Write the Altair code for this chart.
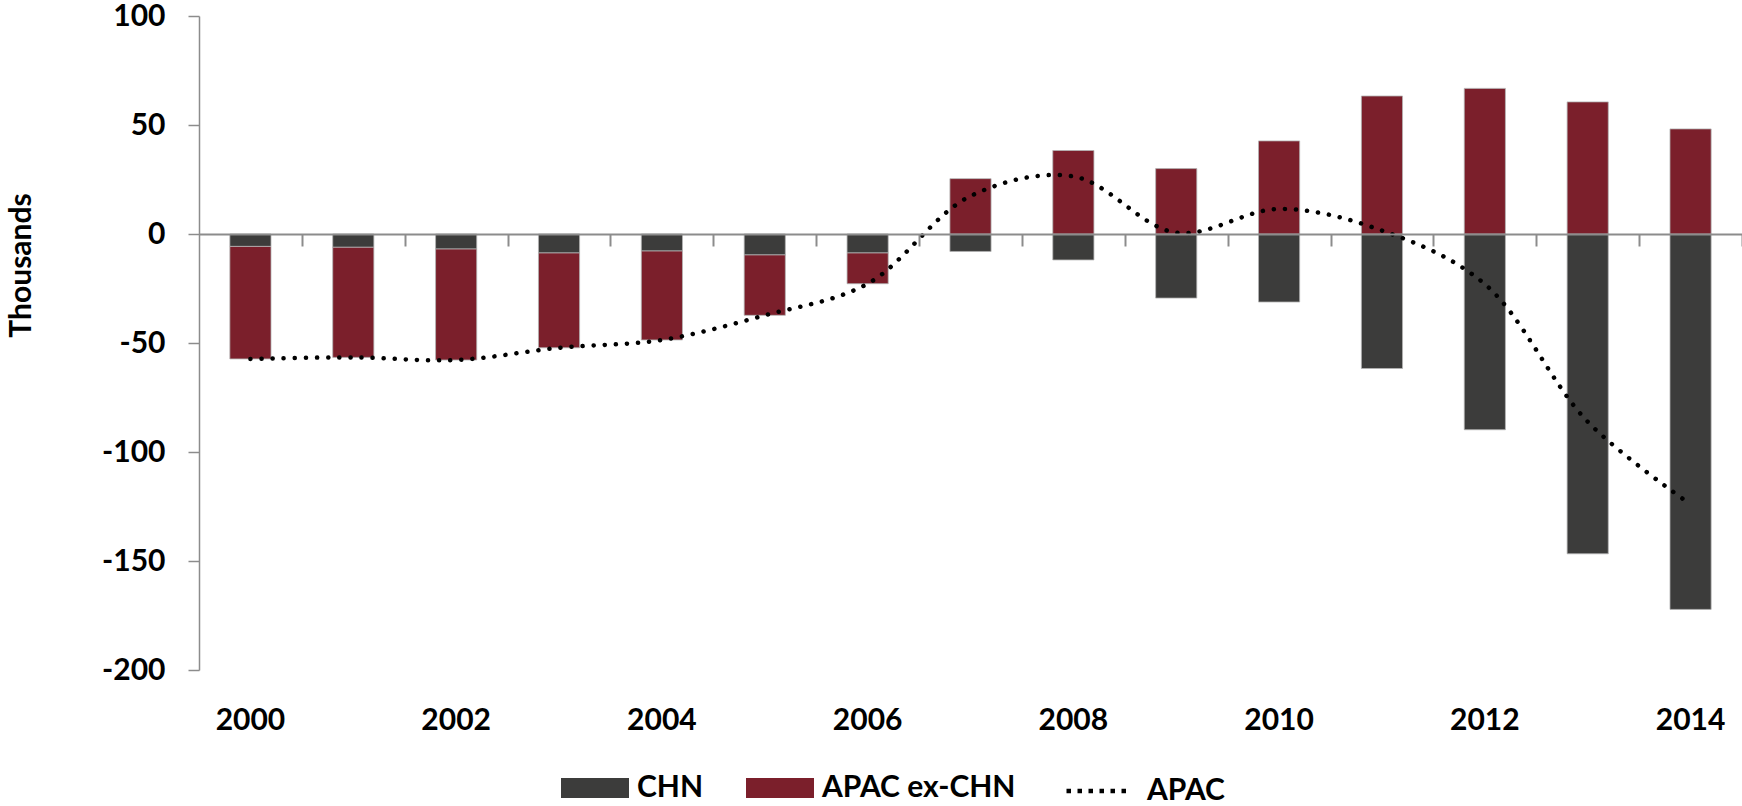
import altair as alt
import pandas as pd

# Net flows by year, thousands
years = list(range(2000, 2015))
chn = [-5.7, -6.1, -6.9, -8.7, -7.8, -9.6, -8.7, -8.0, -11.9, -29.4, -31.2, -61.7, -89.8, -146.7, -172.2]
apac_ex_chn = [-51.6, -50.5, -50.9, -43.5, -40.8, -27.7, -14.1, 25.4, 38.3, 30.0, 42.7, 63.3, 66.8, 60.6, 48.2]
apac = [-57.3, -56.6, -57.8, -52.2, -48.6, -37.3, -22.8, 17.4, 26.4, 0.6, 11.5, 1.6, -23.0, -86.1, -124.0]

series_names = ["CHN", "APAC ex-CHN"]
series_colors = ["#3C3C3B", "#7B1F2B"]
year_labels = [2000, 2002, 2004, 2006, 2008, 2010, 2012, 2014]
y_ticks = [-200, -150, -100, -50, 0, 50, 100]

rows = []
for i, y in enumerate(years):
    rows.append({"year": y, "series": "CHN", "value": chn[i], "ord": 0})
    rows.append({"year": y, "series": "APAC ex-CHN", "value": apac_ex_chn[i], "ord": 1})
bars_df = pd.DataFrame(rows)
line_df = pd.DataFrame({"year": years, "series": ["APAC"] * len(years), "value": apac})

FONT = "Lato"
GREY = "#8C8C8C"
FS = 30
PLOT_W = 1543
PLOT_H = 654
# category ticks sit halfway between neighbouring years
half_step = PLOT_W / len(years) / 2

x_scale = alt.Scale(paddingInner=0.6, paddingOuter=0.3)

bars = alt.Chart(bars_df).mark_bar(stroke="#B4B4B4", strokeWidth=0.8).encode(
    x=alt.X(
        "year:O",
        scale=x_scale,
        axis=alt.Axis(
            title=None, values=year_labels, domain=False, ticks=False, tickSize=0,
            labelAngle=0, labelPadding=35, labelFont=FONT, labelFontSize=FS,
            labelFontWeight="bold", labelColor="black",
        ),
    ),
    y=alt.Y(
        "value:Q",
        stack="zero",
        scale=alt.Scale(domain=[-200, 100], nice=False, zero=False),
        axis=alt.Axis(
            values=y_ticks, grid=False, domainColor=GREY, domainWidth=1.5,
            tickColor=GREY, tickWidth=1.5, tickSize=11, labelPadding=23,
            labelExpr="datum.value + ''",
            labelFont=FONT, labelFontSize=FS, labelFontWeight="bold", labelColor="black",
            title="Thousands", titleFont=FONT, titleFontSize=FS, titleFontWeight="bold",
            titleColor="black", titleAngle=270, titleAlign="center", titleBaseline="middle",
            titleX=-178, titleY=249,
        ),
    ),
    color=alt.Color(
        "series:N",
        sort=series_names,
        scale=alt.Scale(domain=series_names, range=series_colors),
        legend=alt.Legend(
            title=None, orient="none", legendX=362, legendY=738, direction="horizontal",
            symbolType="M-1,-0.294H1V0.294H-1Z", symbolSize=4624, symbolStrokeWidth=0,
            labelFont=FONT, labelFontSize=FS, labelFontWeight="bold", labelColor="black",
            labelOffset=8, labelLimit=400, columnPadding=42, padding=0,
        ),
    ),
    order=alt.Order("ord:Q"),
)

line = alt.Chart(line_df).mark_line(
    strokeWidth=4.5, strokeDash=[0.1, 11], strokeCap="round", interpolate="catmull-rom"
).encode(
    x=alt.X(
        "year:O",
        scale=x_scale,
        axis=alt.Axis(
            title=None, orient="bottom", labels=False,
            offset=alt.ExprRef("scale('y', 0) - height"),
            domain=True, domainColor=GREY, domainWidth=2,
            ticks=True, tickOffset=half_step, tickSize=12, tickWidth=2,
            tickColor=GREY, zindex=1,
        ),
    ),
    y=alt.Y("value:Q"),
    stroke=alt.Stroke(
        "series:N",
        scale=alt.Scale(domain=["APAC"], range=["black"]),
        legend=alt.Legend(
            title=None, orient="none", legendX=865, legendY=740,
            symbolType="stroke", symbolSize=4225, symbolStrokeWidth=4.5,
            symbolDash=[4.5, 6.5], labelFont=FONT, labelFontSize=FS,
            labelFontWeight="bold", labelColor="black", labelOffset=13,
            labelLimit=400, padding=0,
        ),
    ),
)

chart = (
    alt.layer(bars, line)
    .resolve_axis(x="independent")
    .properties(
        width=PLOT_W,
        height=PLOT_H,
        autosize=alt.AutoSizeParams(type="none"),
        padding={"left": 199, "top": 16, "right": 0, "bottom": 136},
    )
    .configure_view(stroke=None)
)

chart.save("out.html", embed_options={"renderer": "svg", "actions": False})
